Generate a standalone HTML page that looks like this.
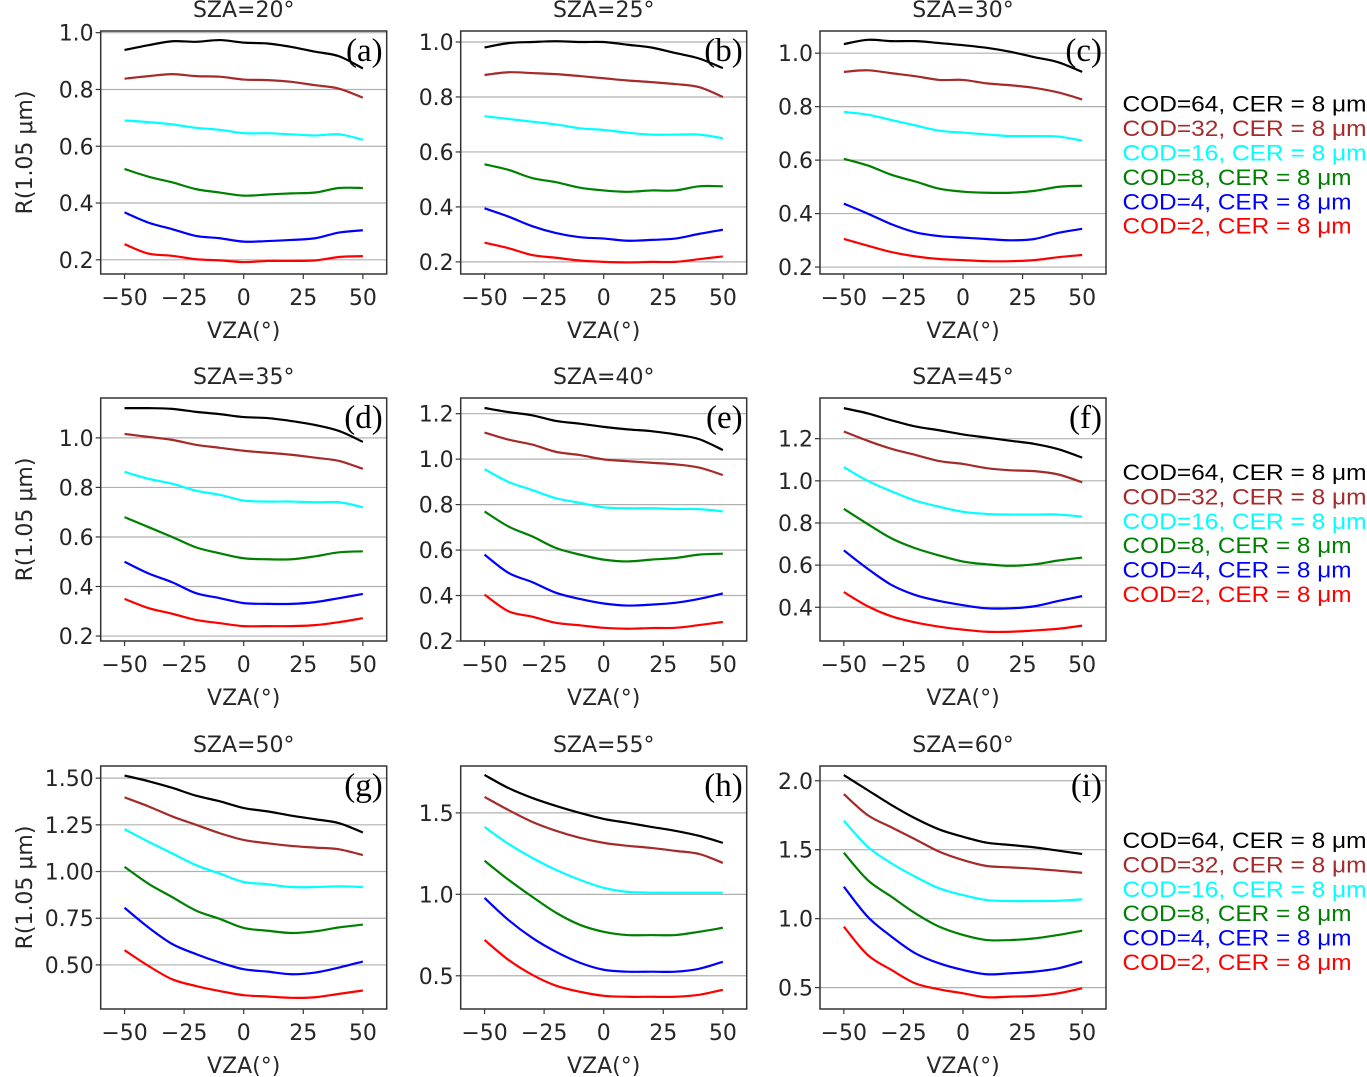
<!DOCTYPE html>
<html><head><meta charset="utf-8">
<style>
html,body{margin:0;padding:0;background:#fff;}
svg{display:block;}
text{font-family:"DejaVu Sans","Liberation Sans",sans-serif;}
</style></head>
<body>
<svg id="fig" width="1367" height="1077" viewBox="0 0 1367 1077" xmlns="http://www.w3.org/2000/svg"></svg>
<script>
const vza = [-50,-40,-30,-20,-10,0,10,20,30,40,50];
const xTicks = [-50,-25,0,25,50];
const xTickLabels = ["\u221250","\u221225","0","25","50"];
const seriesNames = ["COD=64, CER = 8 \u03bcm","COD=32, CER = 8 \u03bcm","COD=16, CER = 8 \u03bcm","COD=8, CER = 8 \u03bcm","COD=4, CER = 8 \u03bcm","COD=2, CER = 8 \u03bcm"];
const seriesColors = ["#000000","#a52a2a","#00ffff","#008000","#0000ff","#ff0000"];
const panelTitles = ["SZA=20\u00b0","SZA=25\u00b0","SZA=30\u00b0","SZA=35\u00b0","SZA=40\u00b0","SZA=45\u00b0","SZA=50\u00b0","SZA=55\u00b0","SZA=60\u00b0"];
const panelLetters = ["(a)","(b)","(c)","(d)","(e)","(f)","(g)","(h)","(i)"];
const yLims = [[0.15,1.006],[0.156,1.04],[0.174,1.083],[0.18,1.161],[0.2,1.269],[0.24,1.393],[0.264,1.565],[0.296,1.788],[0.345,2.107]];
const yTicks = [[0.2,0.4,0.6,0.8,1.0],[0.2,0.4,0.6,0.8,1.0],[0.2,0.4,0.6,0.8,1.0],[0.2,0.4,0.6,0.8,1.0],[0.2,0.4,0.6,0.8,1.0,1.2],[0.4,0.6,0.8,1.0,1.2],[0.5,0.75,1.0,1.25,1.5],[0.5,1.0,1.5],[0.5,1.0,1.5,2.0]];
const yTickLabels = [["0.2","0.4","0.6","0.8","1.0"],["0.2","0.4","0.6","0.8","1.0"],["0.2","0.4","0.6","0.8","1.0"],["0.2","0.4","0.6","0.8","1.0"],["0.2","0.4","0.6","0.8","1.0","1.2"],["0.4","0.6","0.8","1.0","1.2"],["0.50","0.75","1.00","1.25","1.50"],["0.5","1.0","1.5"],["0.5","1.0","1.5","2.0"]];
// panel a
const a_cod64=[0.939,0.956,0.97,0.968,0.974,0.965,0.962,0.95,0.933,0.917,0.874];
const a_cod32=[0.838,0.847,0.854,0.847,0.845,0.835,0.833,0.827,0.815,0.803,0.771];
const a_cod16=[0.691,0.685,0.677,0.665,0.658,0.646,0.646,0.642,0.638,0.642,0.623];
const a_cod8=[0.52,0.493,0.473,0.449,0.437,0.426,0.43,0.434,0.437,0.453,0.453];
const a_cod4=[0.367,0.331,0.308,0.284,0.276,0.264,0.266,0.27,0.276,0.296,0.304];
const a_cod2=[0.255,0.222,0.214,0.202,0.198,0.192,0.196,0.196,0.198,0.21,0.213];
// panel b
const b_cod64=[0.98,0.996,1.0,1.003,1.0,1.0,0.99,0.98,0.96,0.94,0.905];
const b_cod32=[0.88,0.89,0.887,0.883,0.876,0.868,0.86,0.854,0.847,0.836,0.80];
const b_cod16=[0.73,0.72,0.71,0.70,0.686,0.68,0.67,0.663,0.663,0.663,0.65];
const b_cod8=[0.555,0.535,0.505,0.49,0.47,0.46,0.455,0.46,0.46,0.475,0.475];
const b_cod4=[0.395,0.365,0.33,0.305,0.29,0.285,0.277,0.28,0.285,0.302,0.317];
const b_cod2=[0.27,0.25,0.225,0.215,0.205,0.2,0.198,0.2,0.2,0.21,0.22];
// panel c
const c_cod64=[1.034,1.05,1.045,1.045,1.038,1.03,1.02,1.005,0.985,0.966,0.93];
const c_cod32=[0.93,0.936,0.925,0.914,0.9,0.9,0.887,0.88,0.87,0.853,0.827];
const c_cod16=[0.78,0.77,0.75,0.73,0.71,0.703,0.696,0.69,0.69,0.688,0.673];
const c_cod8=[0.605,0.58,0.545,0.52,0.493,0.482,0.478,0.478,0.485,0.5,0.504];
const c_cod4=[0.437,0.4,0.36,0.33,0.316,0.31,0.305,0.3,0.305,0.328,0.343];
const c_cod2=[0.305,0.28,0.256,0.24,0.23,0.226,0.222,0.222,0.226,0.237,0.245];
// panel d
const d_cod64=[1.12,1.12,1.117,1.105,1.096,1.084,1.08,1.068,1.052,1.028,0.984];
const d_cod32=[1.016,1.004,0.992,0.972,0.96,0.948,0.94,0.932,0.92,0.907,0.875];
const d_cod16=[0.863,0.835,0.815,0.787,0.77,0.747,0.743,0.743,0.74,0.74,0.72];
const d_cod8=[0.68,0.64,0.6,0.558,0.534,0.514,0.51,0.51,0.522,0.538,0.542];
const d_cod4=[0.5,0.453,0.417,0.373,0.353,0.333,0.33,0.33,0.337,0.353,0.37];
const d_cod2=[0.35,0.313,0.29,0.265,0.252,0.24,0.24,0.24,0.244,0.256,0.272];
// panel e
const e_cod64=[1.225,1.207,1.193,1.168,1.156,1.142,1.131,1.123,1.109,1.088,1.04];
const e_cod32=[1.117,1.086,1.064,1.032,1.018,0.999,0.991,0.984,0.977,0.963,0.93];
const e_cod16=[0.956,0.9,0.864,0.828,0.808,0.788,0.784,0.784,0.781,0.78,0.77];
const e_cod8=[0.77,0.704,0.66,0.609,0.58,0.558,0.55,0.558,0.565,0.58,0.584];
const e_cod4=[0.58,0.5,0.459,0.412,0.385,0.365,0.356,0.36,0.368,0.385,0.409];
const e_cod2=[0.404,0.331,0.307,0.28,0.269,0.258,0.254,0.257,0.258,0.27,0.284];
// panel f
const f_cod64=[1.345,1.32,1.287,1.258,1.24,1.22,1.205,1.19,1.175,1.15,1.11];
const f_cod32=[1.234,1.19,1.152,1.123,1.094,1.08,1.06,1.05,1.046,1.03,0.993];
const f_cod16=[1.065,1.0,0.95,0.906,0.877,0.853,0.843,0.84,0.84,0.84,0.83];
const f_cod8=[0.867,0.795,0.727,0.68,0.646,0.617,0.604,0.597,0.604,0.622,0.636];
const f_cod4=[0.67,0.583,0.506,0.458,0.43,0.41,0.395,0.395,0.405,0.43,0.453];
const f_cod2=[0.472,0.405,0.357,0.328,0.308,0.294,0.284,0.284,0.29,0.298,0.313];
// panel g
const g_cod64=[1.514,1.484,1.448,1.406,1.376,1.34,1.322,1.299,1.28,1.259,1.209];
const g_cod32=[1.397,1.349,1.295,1.25,1.205,1.169,1.151,1.137,1.128,1.119,1.088];
const g_cod16=[1.227,1.16,1.097,1.034,0.989,0.944,0.932,0.917,0.917,0.921,0.917];
const g_cod8=[1.025,0.935,0.863,0.791,0.746,0.698,0.683,0.671,0.68,0.701,0.716];
const g_cod4=[0.806,0.701,0.612,0.558,0.513,0.477,0.464,0.45,0.459,0.486,0.518];
const g_cod2=[0.579,0.495,0.423,0.387,0.36,0.338,0.331,0.324,0.327,0.345,0.363];
// panel h
const h_cod64=[1.733,1.653,1.592,1.543,1.5,1.463,1.439,1.414,1.39,1.359,1.316];
const h_cod32=[1.598,1.518,1.445,1.39,1.347,1.316,1.298,1.285,1.267,1.248,1.193];
const h_cod16=[1.414,1.31,1.224,1.15,1.089,1.04,1.015,1.01,1.01,1.01,1.01];
const h_cod8=[1.206,1.09,0.985,0.887,0.813,0.77,0.75,0.75,0.75,0.77,0.795];
const h_cod4=[0.978,0.843,0.733,0.647,0.58,0.537,0.525,0.525,0.525,0.543,0.586];
const h_cod2=[0.72,0.598,0.506,0.439,0.402,0.377,0.371,0.371,0.371,0.383,0.414];
// panel i
const i_cod64=[2.041,1.932,1.824,1.727,1.647,1.594,1.551,1.534,1.517,1.493,1.469];
const i_cod32=[1.903,1.751,1.662,1.575,1.486,1.425,1.382,1.372,1.362,1.348,1.333];
const i_cod16=[1.71,1.522,1.401,1.304,1.22,1.171,1.135,1.128,1.128,1.13,1.14];
const i_cod8=[1.478,1.28,1.159,1.039,0.942,0.882,0.845,0.845,0.857,0.882,0.913];
const i_cod4=[1.232,1.014,0.87,0.749,0.676,0.628,0.597,0.604,0.616,0.64,0.688];
const i_cod2=[0.942,0.737,0.628,0.531,0.488,0.459,0.43,0.435,0.44,0.459,0.495];

const panelSeries=[
 [a_cod64,a_cod32,a_cod16,a_cod8,a_cod4,a_cod2],
 [b_cod64,b_cod32,b_cod16,b_cod8,b_cod4,b_cod2],
 [c_cod64,c_cod32,c_cod16,c_cod8,c_cod4,c_cod2],
 [d_cod64,d_cod32,d_cod16,d_cod8,d_cod4,d_cod2],
 [e_cod64,e_cod32,e_cod16,e_cod8,e_cod4,e_cod2],
 [f_cod64,f_cod32,f_cod16,f_cod8,f_cod4,f_cod2],
 [g_cod64,g_cod32,g_cod16,g_cod8,g_cod4,g_cod2],
 [h_cod64,h_cod32,h_cod16,h_cod8,h_cod4,h_cod2],
 [i_cod64,i_cod32,i_cod16,i_cod8,i_cod4,i_cod2]];

const NS="http://www.w3.org/2000/svg";
const svg=document.getElementById('fig');
const colLeft=[100.7,460.7,820];
const rowTop=[31,398,766];
const W=286, H=243;
const xMin=-60, xMax=60;

function mk(tag,attrs,parent){const e=document.createElementNS(NS,tag);for(const k in attrs)e.setAttribute(k,attrs[k]);(parent||svg).appendChild(e);return e;}

function smoothPath(pts){
 let d="M"+pts[0][0].toFixed(2)+","+pts[0][1].toFixed(2);
 for(let i=0;i<pts.length-1;i++){
  const p0=pts[Math.max(0,i-1)],p1=pts[i],p2=pts[i+1],p3=pts[Math.min(pts.length-1,i+2)];
  const c1x=p1[0]+(p2[0]-p0[0])/6,c1y=p1[1]+(p2[1]-p0[1])/6;
  const c2x=p2[0]-(p3[0]-p1[0])/6,c2y=p2[1]-(p3[1]-p1[1])/6;
  d+=" C"+c1x.toFixed(2)+","+c1y.toFixed(2)+" "+c2x.toFixed(2)+","+c2y.toFixed(2)+" "+p2[0].toFixed(2)+","+p2[1].toFixed(2);
 }
 return d;
}

for(let p=0;p<9;p++){
 const L=colLeft[p%3], T=rowTop[Math.floor(p/3)];
 const [y0,y1]=yLims[p];
 const xs=v=>L+(v-xMin)/(xMax-xMin)*W;
 const ys=v=>T+H-(v-y0)/(y1-y0)*H;
 const g=mk('g',{});
 
 
 yTicks[p].forEach((t,k)=>{
  const y=ys(t);
  const gl=mk('line',{x1:L,x2:L+W,y1:y,y2:y,stroke:'#b0b0b0','stroke-width':1.2},g);
  
  
  const tk=mk('line',{x1:L-5,x2:L,y1:y,y2:y,stroke:'#333','stroke-width':1.2},g);
  
  
  const tl=mk('text',{x:L-7,y:y+8,'text-anchor':'end','font-size':22,fill:'#262626'},g);
  tl.textContent=yTickLabels[p][k];
  
  
 });
 xTicks.forEach((t,k)=>{
  const x=xs(t);
  const tk=mk('line',{x1:x,x2:x,y1:T+H,y2:T+H+5,stroke:'#333','stroke-width':1.2},g);
  
  
  const tl=mk('text',{x:x,y:T+H+31,'text-anchor':'middle','font-size':22,fill:'#262626'},g);
  tl.textContent=xTickLabels[k];
  
  
 });
 panelSeries[p].forEach((arr,s)=>{
  const pts=arr.map((v,i)=>[xs(vza[i]),ys(v)]);
  const path=mk('path',{d:smoothPath(pts),fill:'none',stroke:seriesColors[s],'stroke-width':2.2,'stroke-linejoin':'round','stroke-linecap':'butt'},g);
  
  
 });
 const box=mk('rect',{x:L,y:T,width:W,height:H,fill:'none',stroke:'#333','stroke-width':1.5},g);
 
 
 const ttl=mk('text',{x:L+W/2,y:T-14,'text-anchor':'middle','font-size':22,fill:'#262626'},g);
 ttl.textContent=panelTitles[p];
 
 
 const lt=mk('text',{x:L+W-4,y:T+30,'text-anchor':'end','font-size':33,fill:'#000','style':'font-family:"Liberation Serif",serif'},g);
 lt.textContent=panelLetters[p];
 
 
 const xl=mk('text',{x:L+W/2,y:T+H+64,'text-anchor':'middle','font-size':22,fill:'#262626'},g);
 xl.textContent='VZA(\u00b0)';
 
 
 if(p%3===0){
  const cy=T+H/2;
  const yl=mk('text',{x:32,y:cy,'text-anchor':'middle','font-size':22,fill:'#262626',transform:'rotate(-90 32 '+cy+')'},g);
  yl.textContent='R(1.05 \u03bcm)';
  
  
 }
 if(p%3===2){
  const legendBase=[111.7,480,848][Math.floor(p/3)];
  const lg=mk('g',{},g);
  
  
  seriesNames.forEach((n,s)=>{
   const len=(s<3)?244:229;
   const t=mk('text',{x:1122.5,y:legendBase+s*24.4,'font-size':22,fill:seriesColors[s],textLength:len,lengthAdjust:'spacingAndGlyphs','style':'font-family:"Liberation Sans",sans-serif'},lg);
   t.textContent=n;
   
   
  });
 }
}
</script>
</body></html>
